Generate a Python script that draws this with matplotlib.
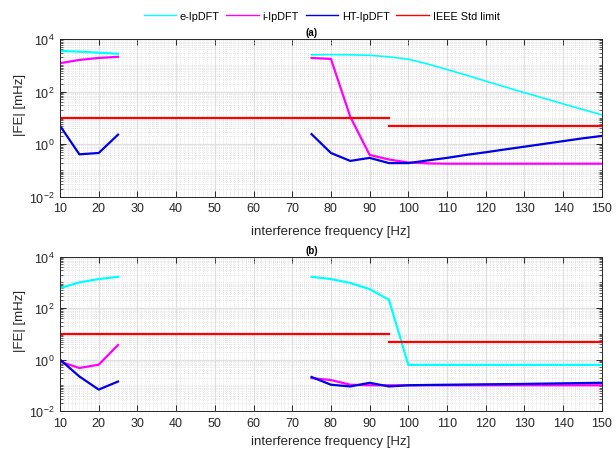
import numpy as np
import matplotlib
matplotlib.use("Agg")
import matplotlib.pyplot as plt
from matplotlib.ticker import LogLocator, MultipleLocator, NullFormatter, FixedLocator

plt.rcParams['font.family'] = ['Liberation Sans', 'DejaVu Sans']

# ---- data (frequencies in Hz, |FE| in mHz) ----
f_low = [10, 15, 20, 25]
f_high = [75, 80, 85, 90, 95, 100, 105, 110, 115, 120, 125, 130, 135, 140, 145, 150]

# panel (a)
a_e_low = [3500, 3300, 3000, 2750]
a_e_high = [2500, 2550, 2500, 2400, 2100, 1700, 1120, 690, 420, 250, 150, 91, 56, 34, 21, 13]
a_i_low = [1200, 1600, 1900, 2100]
a_i_high = [1900, 1750, 11, 0.39, 0.26, 0.20, 0.185, 0.18, 0.18, 0.18, 0.18, 0.18, 0.18, 0.18, 0.18, 0.18]
a_ht_low = [5.0, 0.41, 0.46, 2.3]
a_ht_high = [2.4, 0.46, 0.23, 0.30, 0.19, 0.19, 0.24, 0.30, 0.39, 0.49, 0.63, 0.80, 1.02, 1.30, 1.66, 2.05]

# panel (b)
b_e_low = [600, 1000, 1350, 1650]
b_e_high = [1650, 1350, 950, 550, 210, 0.62, 0.62, 0.62, 0.62, 0.62, 0.62, 0.62, 0.62, 0.62, 0.62, 0.62]
b_i_low = [0.83, 0.47, 0.63, 3.7]
b_i_high = [0.19, 0.16, 0.105, 0.10, 0.10, 0.10, 0.10, 0.10, 0.10, 0.10, 0.10, 0.10, 0.10, 0.10, 0.10, 0.10]
b_ht_low = [1.0, 0.22, 0.068, 0.14]
b_ht_high = [0.21, 0.105, 0.09, 0.125, 0.09, 0.10, 0.103, 0.105, 0.107, 0.109, 0.111, 0.113, 0.116, 0.119, 0.122, 0.125]

# IEEE Std limit
lim_f1 = [10, 95]
lim_v1 = [10, 10]
lim_f2 = [95, 150]
lim_v2 = [5, 5]

series_labels = ['e-IpDFT', 'i-IpDFT', 'HT-IpDFT', 'IEEE Std limit']
colors = ['#00FFFF', '#FF00FF', '#0000E6', '#FF0000']
panel_titles = ['(a)', '(b)']
xticks = [10, 20, 30, 40, 50, 60, 70, 80, 90, 100, 110, 120, 130, 140, 150]
yticks = [1e-2, 1e0, 1e2, 1e4]

fig = plt.figure(figsize=(6.16, 4.52), dpi=100)
ax_a = fig.add_axes([0.0974, 0.5626, 0.8796, 0.3489])
ax_b = fig.add_axes([0.0974, 0.0885, 0.8796, 0.3414])

panels = [
    (ax_a, a_e_low, a_e_high, a_i_low, a_i_high, a_ht_low, a_ht_high),
    (ax_b, b_e_low, b_e_high, b_i_low, b_i_high, b_ht_low, b_ht_high),
]
xlabel_pads = [8, 5]

lw = 1.6
for k, (ax, el, eh, il, ih, hl, hh) in enumerate(panels):
    ax.plot(f_low, el, color=colors[0], lw=lw)
    ax.plot(f_high, eh, color=colors[0], lw=lw * (0.75 if k == 0 else 1.0))
    ax.plot(f_low, il, color=colors[1], lw=lw)
    ax.plot(f_high, ih, color=colors[1], lw=lw)
    ax.plot(f_low, hl, color=colors[2], lw=lw)
    ax.plot(f_high, hh, color=colors[2], lw=lw)
    ax.plot(lim_f1, lim_v1, color=colors[3], lw=lw)
    ax.plot(lim_f2, lim_v2, color=colors[3], lw=lw)

    ax.set_yscale('log')
    ax.set_xlim(10, 150)
    ax.set_ylim(1e-2, 1e4)
    ax.xaxis.set_major_locator(FixedLocator(xticks))
    ax.xaxis.set_minor_locator(MultipleLocator(1))
    ax.yaxis.set_major_locator(FixedLocator(yticks))
    ax.yaxis.set_minor_locator(LogLocator(base=10, subs=np.arange(1, 10), numticks=20))
    ax.yaxis.set_minor_formatter(NullFormatter())
    ax.grid(which='major', color='#E0E0E0', lw=0.9, ls='-')
    ax.grid(which='minor', color='#D0D0D0', lw=0.5, ls=(0, (1, 2)))
    ax.set_axisbelow(True)
    ax.tick_params(which='both', direction='in', top=True, right=True,
                   colors='#262626', labelsize=9, labelcolor='#262626')
    ax.tick_params(which='major', length=4, width=0.7, pad=4)
    ax.tick_params(which='minor', length=2, width=0.5)
    ax.tick_params(axis='x', which='minor', length=0)
    for s in ax.spines.values():
        s.set_color('#262626')
        s.set_linewidth(0.7)
    ax.set_xlabel('interference frequency [Hz]', fontsize=9.5, color='#262626',
                  labelpad=xlabel_pads[k])
    ax.set_ylabel('|FE| [mHz]', fontsize=9.5, color='#262626')
    ax.yaxis.set_label_coords(-0.063, 0.59)
    ax.set_title(panel_titles[k], fontsize=7, fontweight='bold', pad=3, x=0.465)

leg_handles = [plt.Line2D([], [], color=c, lw=1.0) for c in colors]
fig.legend(leg_handles, series_labels, loc='center', bbox_to_anchor=(0.522, 0.963),
           ncol=4, frameon=False, fontsize=7.8, handlelength=3.0, columnspacing=0.6,
           handletextpad=0.35)

fig.savefig('out.png', dpi=100)
